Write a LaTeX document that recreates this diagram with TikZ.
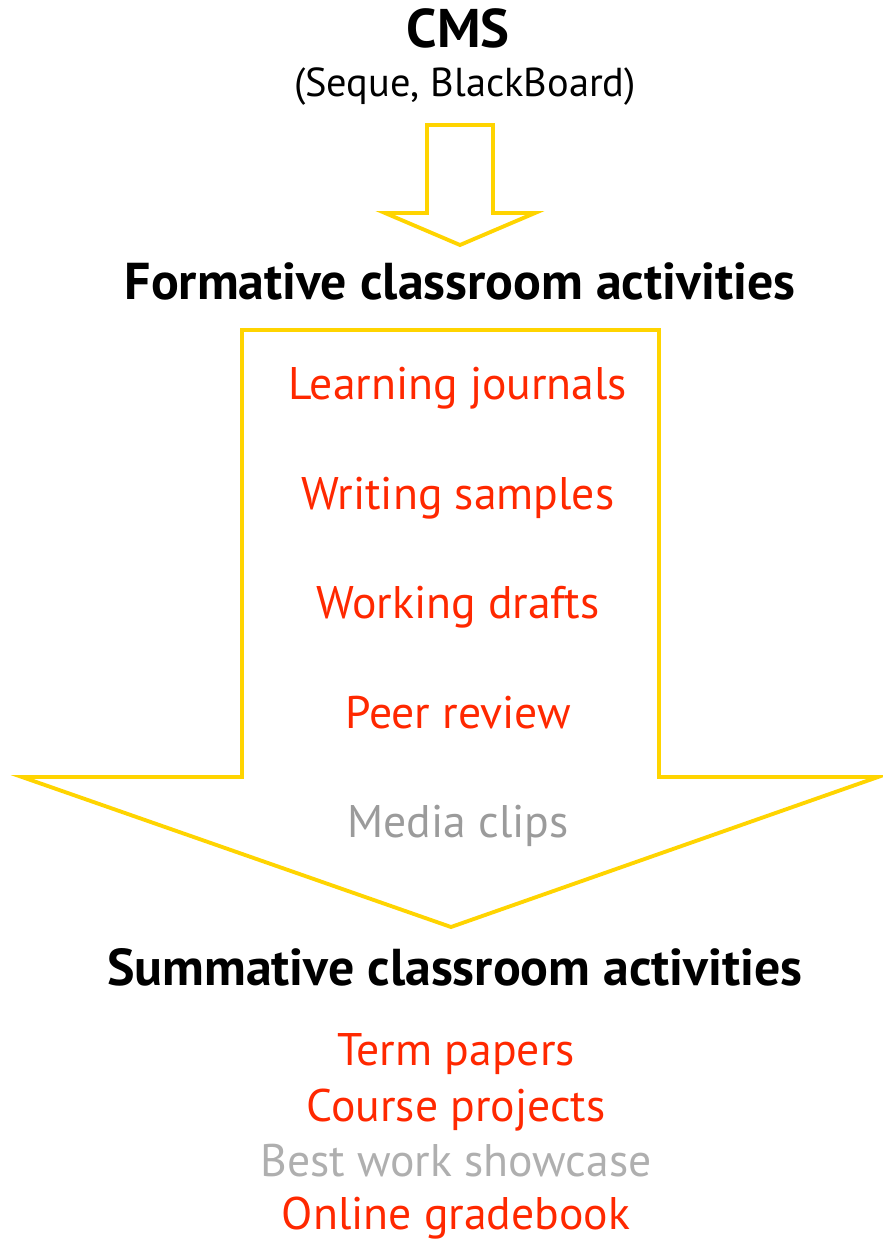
\documentclass[tikz,border=0pt]{standalone}
\usepackage{fontspec}
\setmainfont{PT Sans}
\usetikzlibrary{positioning}
\definecolor{arrowyellow}{RGB}{255,212,0}
\definecolor{itemred}{RGB}{255,40,0}
\definecolor{itemgray}{RGB}{155,155,155}
\tikzset{
  heading/.style={anchor=base, inner sep=0pt, font=\fontsize{29.5}{32}\selectfont\bfseries},
  item/.style={anchor=base, inner sep=0pt, text=itemred, font=\fontsize{26}{30}\selectfont},
  faded/.style={item, text=itemgray},
  flow/.style={draw=arrowyellow, line width=2.2pt, line join=miter}
}
\begin{document}
\begin{tikzpicture}[x=0.02cm,y=-0.02cm]
\useasboundingbox (0,0) rectangle (882,1239);

% Draw CMS source
\node[heading, font=\fontsize{31}{34}\selectfont\bfseries] (cms) at (458,48) {CMS};
\node[anchor=base, inner sep=0pt, font=\fontsize{23}{26}\selectfont] (cmsnames) at (465,97) {(Seque, BlackBoard)};

% Draw small arrow
\draw[flow] (427,125) -- (493,125) -- (493,213) -- (535,213) -- (460,245)
  -- (385,213) -- (427,213) -- cycle;

% Draw formative activities
\node[heading] (formative) at (460,300) {Formative classroom activities};

% Draw big arrow
\draw[flow] (242,330) -- (659,330) -- (659,777) -- (878,777) -- (451,927)
  -- (22,777) -- (242,777) -- cycle;

\node[item] (journals) at (458,400) {Learning journals};
\node[item] (samples) at (458,509) {Writing samples};
\node[item] (drafts) at (458,618) {Working drafts};
\node[item] (review) at (458,728) {Peer review};
\node[faded] (media) at (458,837) {Media clips};

% Draw summative activities
\node[heading] (summative) at (455,985) {Summative classroom activities};

\node[item] (papers) at (456,1065) {Term papers};
\node[item] (projects) at (456,1121) {Course projects};
\node[faded, text=itemgray!80] (showcase) at (456,1176) {Best work showcase};
\node[item] (gradebook) at (456,1229) {Online gradebook};

\end{tikzpicture}
\end{document}
